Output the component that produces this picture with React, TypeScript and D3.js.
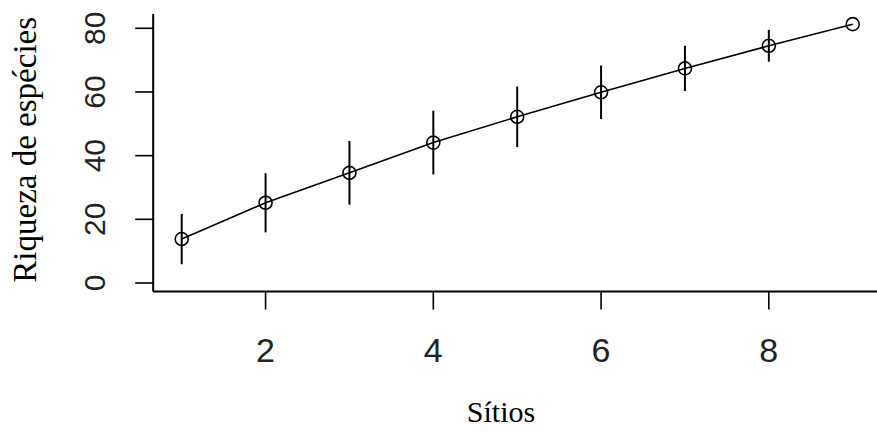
import * as d3 from 'd3';
import React from 'react';

// values
const sites = [1, 2, 3, 4, 5, 6, 7, 8, 9];
const richness = [13.8, 25.2, 34.6, 44.1, 52.2, 59.9, 67.4, 74.5, 81.3];
const spread = [7.9, 9.3, 10.0, 10.0, 9.5, 8.4, 7.1, 5.0, 0];

const xTicks = [2, 4, 6, 8];
const yTicks = [0, 20, 40, 60, 80];

const W = 877;
const H = 432;

export default function App() {
  const x = d3.scaleLinear().domain([1, 9]).range([181.7, 852.7]);
  const y = d3.scaleLinear().domain([0, 80]).range([283, 28.3]);

  // plot box (R style, 4% past the data)
  const left = x(0.66);
  const bottom = y(-2.7);
  const top = y(84.5);
  const right = x(9.4);

  const pts = sites.map((s, i) => ({ s, v: richness[i], e: spread[i] }));
  const line = d3.line<{ s: number; v: number }>()
    .x(d => x(d.s))
    .y(d => y(d.v));

  return (
    <div style={{ position: 'absolute', left: 0, top: 0 }}>
      <svg width={W} height={H} style={{ display: 'block', background: '#fff' }}>
        {/* axes */}
        <g stroke="#000" fill="none">
          <line x1={left} x2={left} y1={top} y2={bottom} strokeWidth={2} />
          <line x1={left} x2={right} y1={bottom} y2={bottom} strokeWidth={2} />
          {yTicks.map(t => (
            <line key={'yt' + t} x1={left - 18} x2={left} y1={y(t)} y2={y(t)} strokeWidth={1.6} />
          ))}
          {xTicks.map(t => (
            <line key={'xt' + t} x1={x(t)} x2={x(t)} y1={bottom} y2={bottom + 18} strokeWidth={1.6} />
          ))}
        </g>

        {/* tick labels */}
        <g fontFamily="'Liberation Sans', Arial, sans-serif" fill="#222">
          {yTicks.map(t => (
            <text key={'yl' + t} transform={`translate(105,${y(t)}) rotate(-90)`}
              textAnchor="middle" fontSize={30}>{t}</text>
          ))}
          {xTicks.map(t => (
            <text key={'xl' + t} x={x(t)} y={362} textAnchor="middle" fontSize={34}>{t}</text>
          ))}
        </g>

        {/* axis titles */}
        <g fontFamily="'Liberation Serif', 'Times New Roman', serif" fill="#000">
          <text transform={`translate(36,${(top + bottom) / 2 - 3}) rotate(-90)`}
            textAnchor="middle" fontSize={33}>Riqueza de espécies</text>
          <text x={501} y={422} textAnchor="middle" fontSize={30}>Sítios</text>
        </g>

        {/* error bars */}
        <g stroke="#000" strokeWidth={2}>
          {pts.filter(p => p.e > 0).map(p => (
            <line key={'e' + p.s} x1={x(p.s)} x2={x(p.s)} y1={y(p.v + p.e)} y2={y(p.v - p.e)} />
          ))}
        </g>

        {/* mean line and points */}
        <path d={line(pts) || ''} fill="none" stroke="#000" strokeWidth={1.6} />
        <g fill="none" stroke="#000" strokeWidth={1.6}>
          {pts.map(p => (
            <circle key={'p' + p.s} cx={x(p.s)} cy={y(p.v)} r={6.5} />
          ))}
        </g>
      </svg>
    </div>
  );
}
